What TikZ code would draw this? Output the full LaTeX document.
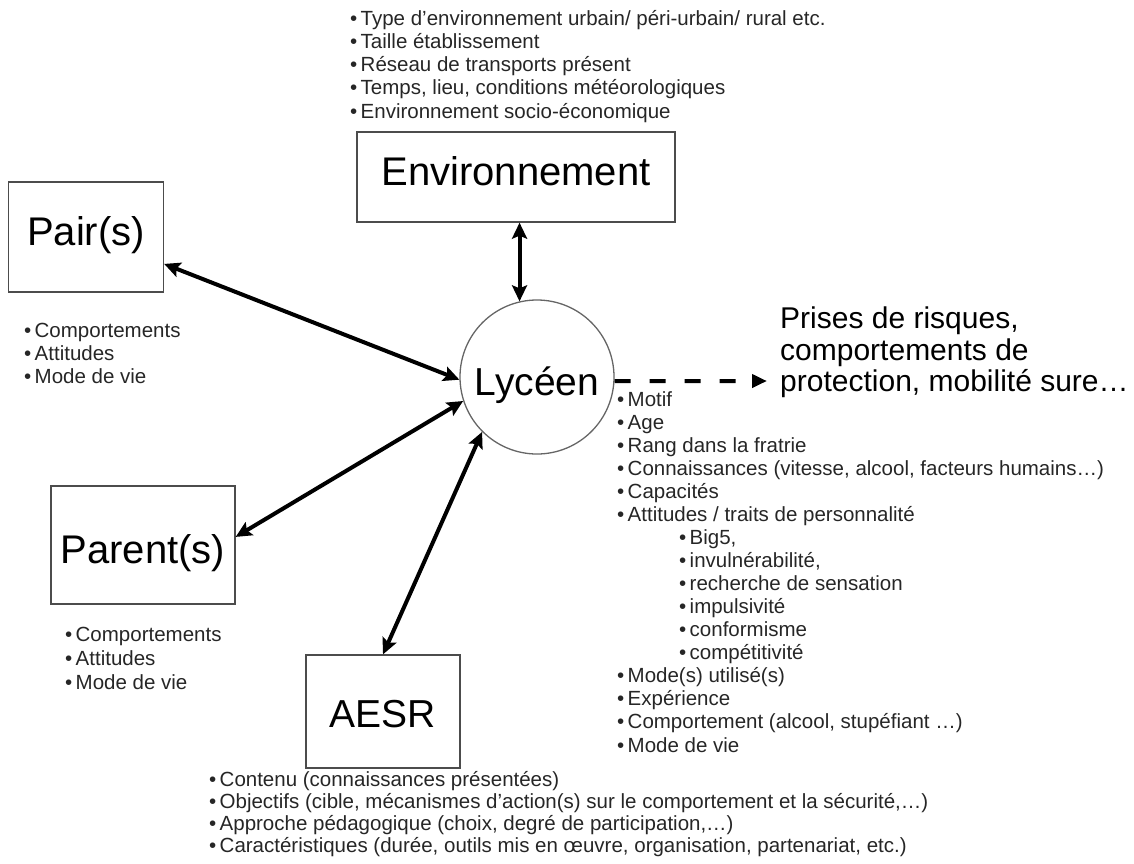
\documentclass[tikz,border=0pt]{standalone}
\usepackage{fontspec}
\setmainfont{Liberation Sans}
\usetikzlibrary{arrows.meta}
\newcommand{\bul}{\makebox[10.5pt][l]{•}}
\begin{document}
\begin{tikzpicture}[x=1pt,y=-1pt,
  boxst/.style={draw=black!70, line width=1.3pt, inner sep=0pt},
  bigtxt/.style={font=\fontsize{40}{44}\selectfont, anchor=base, inner sep=0pt},
  midtxt/.style={font=\fontsize{30}{32}\selectfont, anchor=base west, inner sep=0pt},
  smalltxt/.style={font=\fontsize{20.5}{23}\selectfont, anchor=base west, inner sep=0pt, text=black!85},
  link/.style={line width=4pt, {Stealth[length=16pt,width=15pt,inset=3pt]}-{Stealth[length=16pt,width=15pt,inset=3pt]}},
  dashlink/.style={line width=4pt, dash pattern=on 16pt off 19pt, -{Triangle[length=15pt,width=13pt]}}
]
\useasboundingbox (0,0) rectangle (1134,863);

% boxes
\node[boxst, minimum width=318pt, minimum height=90pt] (env) at (516,177) {};
\node[boxst, minimum width=155pt, minimum height=110pt] (pair) at (86,237) {};
\node[boxst, minimum width=184pt, minimum height=118pt] (parent) at (143,545) {};
\node[boxst, minimum width=154pt, minimum height=113pt] (aesr) at (383,711.5) {};
\node[draw=black!60, line width=1.3pt, circle, minimum size=154pt, inner sep=0pt] (lyc) at (537,377) {};

% box labels
\node[bigtxt] (envt) at (516,185) {Environnement};
\node[bigtxt] (pairt) at (86,245) {Pair(s)};
\node[bigtxt] (parentt) at (143,563) {Parent(s)};
\node[bigtxt, font=\fontsize{39}{44}\selectfont] (aesrt) at (383,727) {AESR};
\node[bigtxt, font=\fontsize{39}{44}\selectfont] (lyct) at (537,395) {Lycéen};

% outcome text
\node[midtxt] (out1) at (780,328.5) {Prises de risques,};
\node[midtxt] (out2) at (780,360) {comportements de};
\node[midtxt] (out3) at (780,391.5) {protection, mobilité sure…};
\coordinate (outtip) at (767,381);

% connectors
\draw[link] (env.south -| lyc.103) -- (lyc.103);
\draw[link] (pair.-19) -- (lyc.182);
\draw[link] (parent.5) -- (lyc.198);
\draw[link] (aesr.north) -- (lyc.225);
\draw[dashlink] (lyc.-3) -- (outtip);

% top list (environment)
\foreach \t [count=\i] in {{Type d'environnement urbain/ péri-urbain/ rural etc.},
  {Taille établissement},
  {Réseau de transports présent},
  {Temps, lieu, conditions météorologiques},
  {Environnement socio-économique}}
  \node[smalltxt] (envl\i) at (350,{25+23.25*(\i-1)}) {\bul\t};

% pair list
\foreach \t [count=\i] in {Comportements, Attitudes, Mode de vie}
  \node[smalltxt] (pairl\i) at (24,{337+23*(\i-1)}) {\bul\t};

% parent list
\foreach \t [count=\i] in {Comportements, Attitudes, Mode de vie}
  \node[smalltxt] (parl\i) at (65,{641+24*(\i-1)}) {\bul\t};

% lyceen list
\foreach \t/\x [count=\i] in {{Motif}/617, {Age}/617, {Rang dans la fratrie}/617,
  {Connaissances (vitesse, alcool, facteurs humains…)}/617,
  {Capacités}/617, {Attitudes / traits de personnalité}/617,
  {Big5,}/679, {invulnérabilité,}/679, {recherche de sensation}/679,
  {impulsivité}/679, {conformisme}/679, {compétitivité}/679,
  {Mode(s) utilisé(s)}/617, {Expérience}/617,
  {Comportement (alcool, stupéfiant …)}/617, {Mode de vie}/617}
  \node[smalltxt] (lycl\i) at (\x,{406+23.07*(\i-1)}) {\bul\t};

% AESR list
\foreach \t [count=\i] in {{Contenu (connaissances présentées)},
  {Objectifs (cible, mécanismes d'action(s) sur le comportement et la sécurité,…)},
  {Approche pédagogique (choix, degré de participation,…)},
  {Caractéristiques (durée, outils mis en œuvre, organisation, partenariat, etc.)}}
  \node[smalltxt] (aesrl\i) at (209,{786+22*(\i-1)}) {\bul\t};
\end{tikzpicture}
\end{document}
